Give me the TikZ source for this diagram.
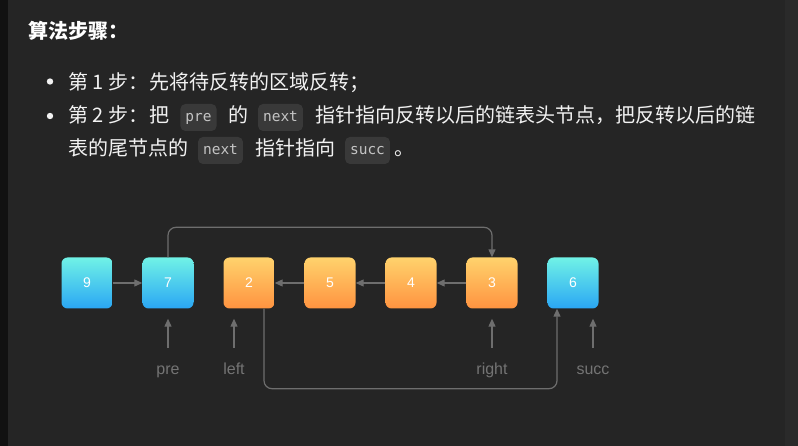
\documentclass[tikz,border=0pt]{standalone}
\usepackage{fontspec}
\setmainfont{Liberation Sans}
\newfontfamily\cjk{Noto Sans CJK SC}
\newfontfamily\codefont{DejaVu Sans Mono}
\usetikzlibrary{arrows.meta}
\definecolor{bgc}{HTML}{252525}
\definecolor{stripc}{HTML}{111111}
\definecolor{rstripc}{HTML}{2A2A2A}
\definecolor{txtc}{HTML}{F2F2F2}
\definecolor{codebg}{HTML}{393939}
\definecolor{codetxt}{HTML}{C4C4C4}
\definecolor{cyantop}{HTML}{70F2E6}
\definecolor{bluebot}{HTML}{2AA6F4}
\definecolor{orgtop}{HTML}{FFD26C}
\definecolor{orgbot}{HTML}{FF9340}
\definecolor{linec}{HTML}{6E6E6E}
\definecolor{lblc}{HTML}{747474}
\begin{document}
\begin{tikzpicture}[x=1pt,y=-1pt,
  txt/.style={anchor=base west,inner sep=0pt,text=txtc,font=\cjk\fontsize{20}{24}\selectfont},
  ttl/.style={txt,font=\cjk\bfseries\fontsize{20}{24}\selectfont,text=white},
  code/.style={rounded corners=5pt,fill=codebg,text=codetxt,font=\codefont\fontsize{14.5}{17}\selectfont,inner xsep=5pt,inner ysep=0pt,text height=10.5pt,text depth=3pt,minimum height=27pt},
  box/.style={minimum size=51pt,rounded corners=6pt,inner sep=0pt,text=white,font=\fontsize{14}{16}\selectfont},
  bluebox/.style={box,top color=cyantop,bottom color=bluebot},
  orangebox/.style={box,top color=orgtop,bottom color=orgbot},
  link/.style={draw=linec,line width=1.2pt,-{Triangle[length=8pt,width=7pt]}},
  lbl/.style={anchor=base,text=lblc,font=\fontsize{16}{18}\selectfont,inner sep=0pt}
]
\fill[bgc] (0,0) rectangle (798,446);
\fill[stripc] (0,0) rectangle (8,446);
\fill[rstripc] (785,0) rectangle (798,446);
\useasboundingbox (0,0) rectangle (798,446);

% text
\node[ttl] (title) at (28,39) {算法步骤：};
\fill[txtc] (50,81.5) circle (3.2pt);
\fill[txtc] (50,116) circle (3.2pt);
\node[txt] (s1a) at (68,89.6) {第 1 步：};
\node[txt] (s1b) at (149,89.6) {先将待反转的区域反转；};
\node[txt] (s2a) at (68,123) {第 2 步：};
\node[txt] (s2b) at (149,123) {把};
\node[code] (c1) at (198.5,117.5) {pre};
\node[txt] (s2c) at (228,123) {的};
\node[code] (c2) at (280.5,117.5) {next};
\node[txt] (s2d) at (315,123) {指针指向反转以后的链表头节点，把反转以后的链};
\node[txt] (s3a) at (68,155.6) {表的尾节点的};
\node[code] (c3) at (220.5,150.5) {next};
\node[txt] (s3b) at (255,155.6) {指针指向};
\node[code] (c4) at (367.5,150.5) {succ};
\node[txt] (s3c) at (394,155.6) {。};

% boxes
\node[bluebox] (n9) at (87,283) {9};
\node[bluebox] (n7) at (168,283) {7};
\node[orangebox] (n2) at (249,283) {2};
\node[orangebox] (n5) at (330,283) {5};
\node[orangebox] (n4) at (411,283) {4};
\node[orangebox] (n3) at (492,283) {3};
\node[bluebox] (n6) at (573,283) {6};

\draw[link] (n9) -- (n7);
\draw[link] (n5) -- (n2);
\draw[link] (n4) -- (n5);
\draw[link] (n3) -- (n4);
\draw[link,rounded corners=8pt] (n7.north) -- ++(0,-30) -| (n3.north);
\draw[link,rounded corners=8pt] ([xshift=15pt]n2.south) -- ++(0,80) -| ([xshift=-16pt]n6.south);

% labels
\node[lbl] (lpre) at (168,374) {pre};
\node[lbl] (lleft) at (234,374) {left};
\node[lbl] (lright) at (492,374) {right};
\node[lbl] (lsucc) at (593,374) {succ};
\coordinate (apre) at (168,348);
\coordinate (aleft) at (234,348);
\coordinate (aright) at (492,348);
\coordinate (asucc) at (593,348);
\draw[link,shorten >=10pt] (apre) -- (apre |- n7.south);
\draw[link,shorten >=10pt] (aleft) -- (aleft |- n2.south);
\draw[link,shorten >=10pt] (aright) -- (aright |- n3.south);
\draw[link,shorten >=10pt] (asucc) -- (asucc |- n6.south);
\end{tikzpicture}
\end{document}
